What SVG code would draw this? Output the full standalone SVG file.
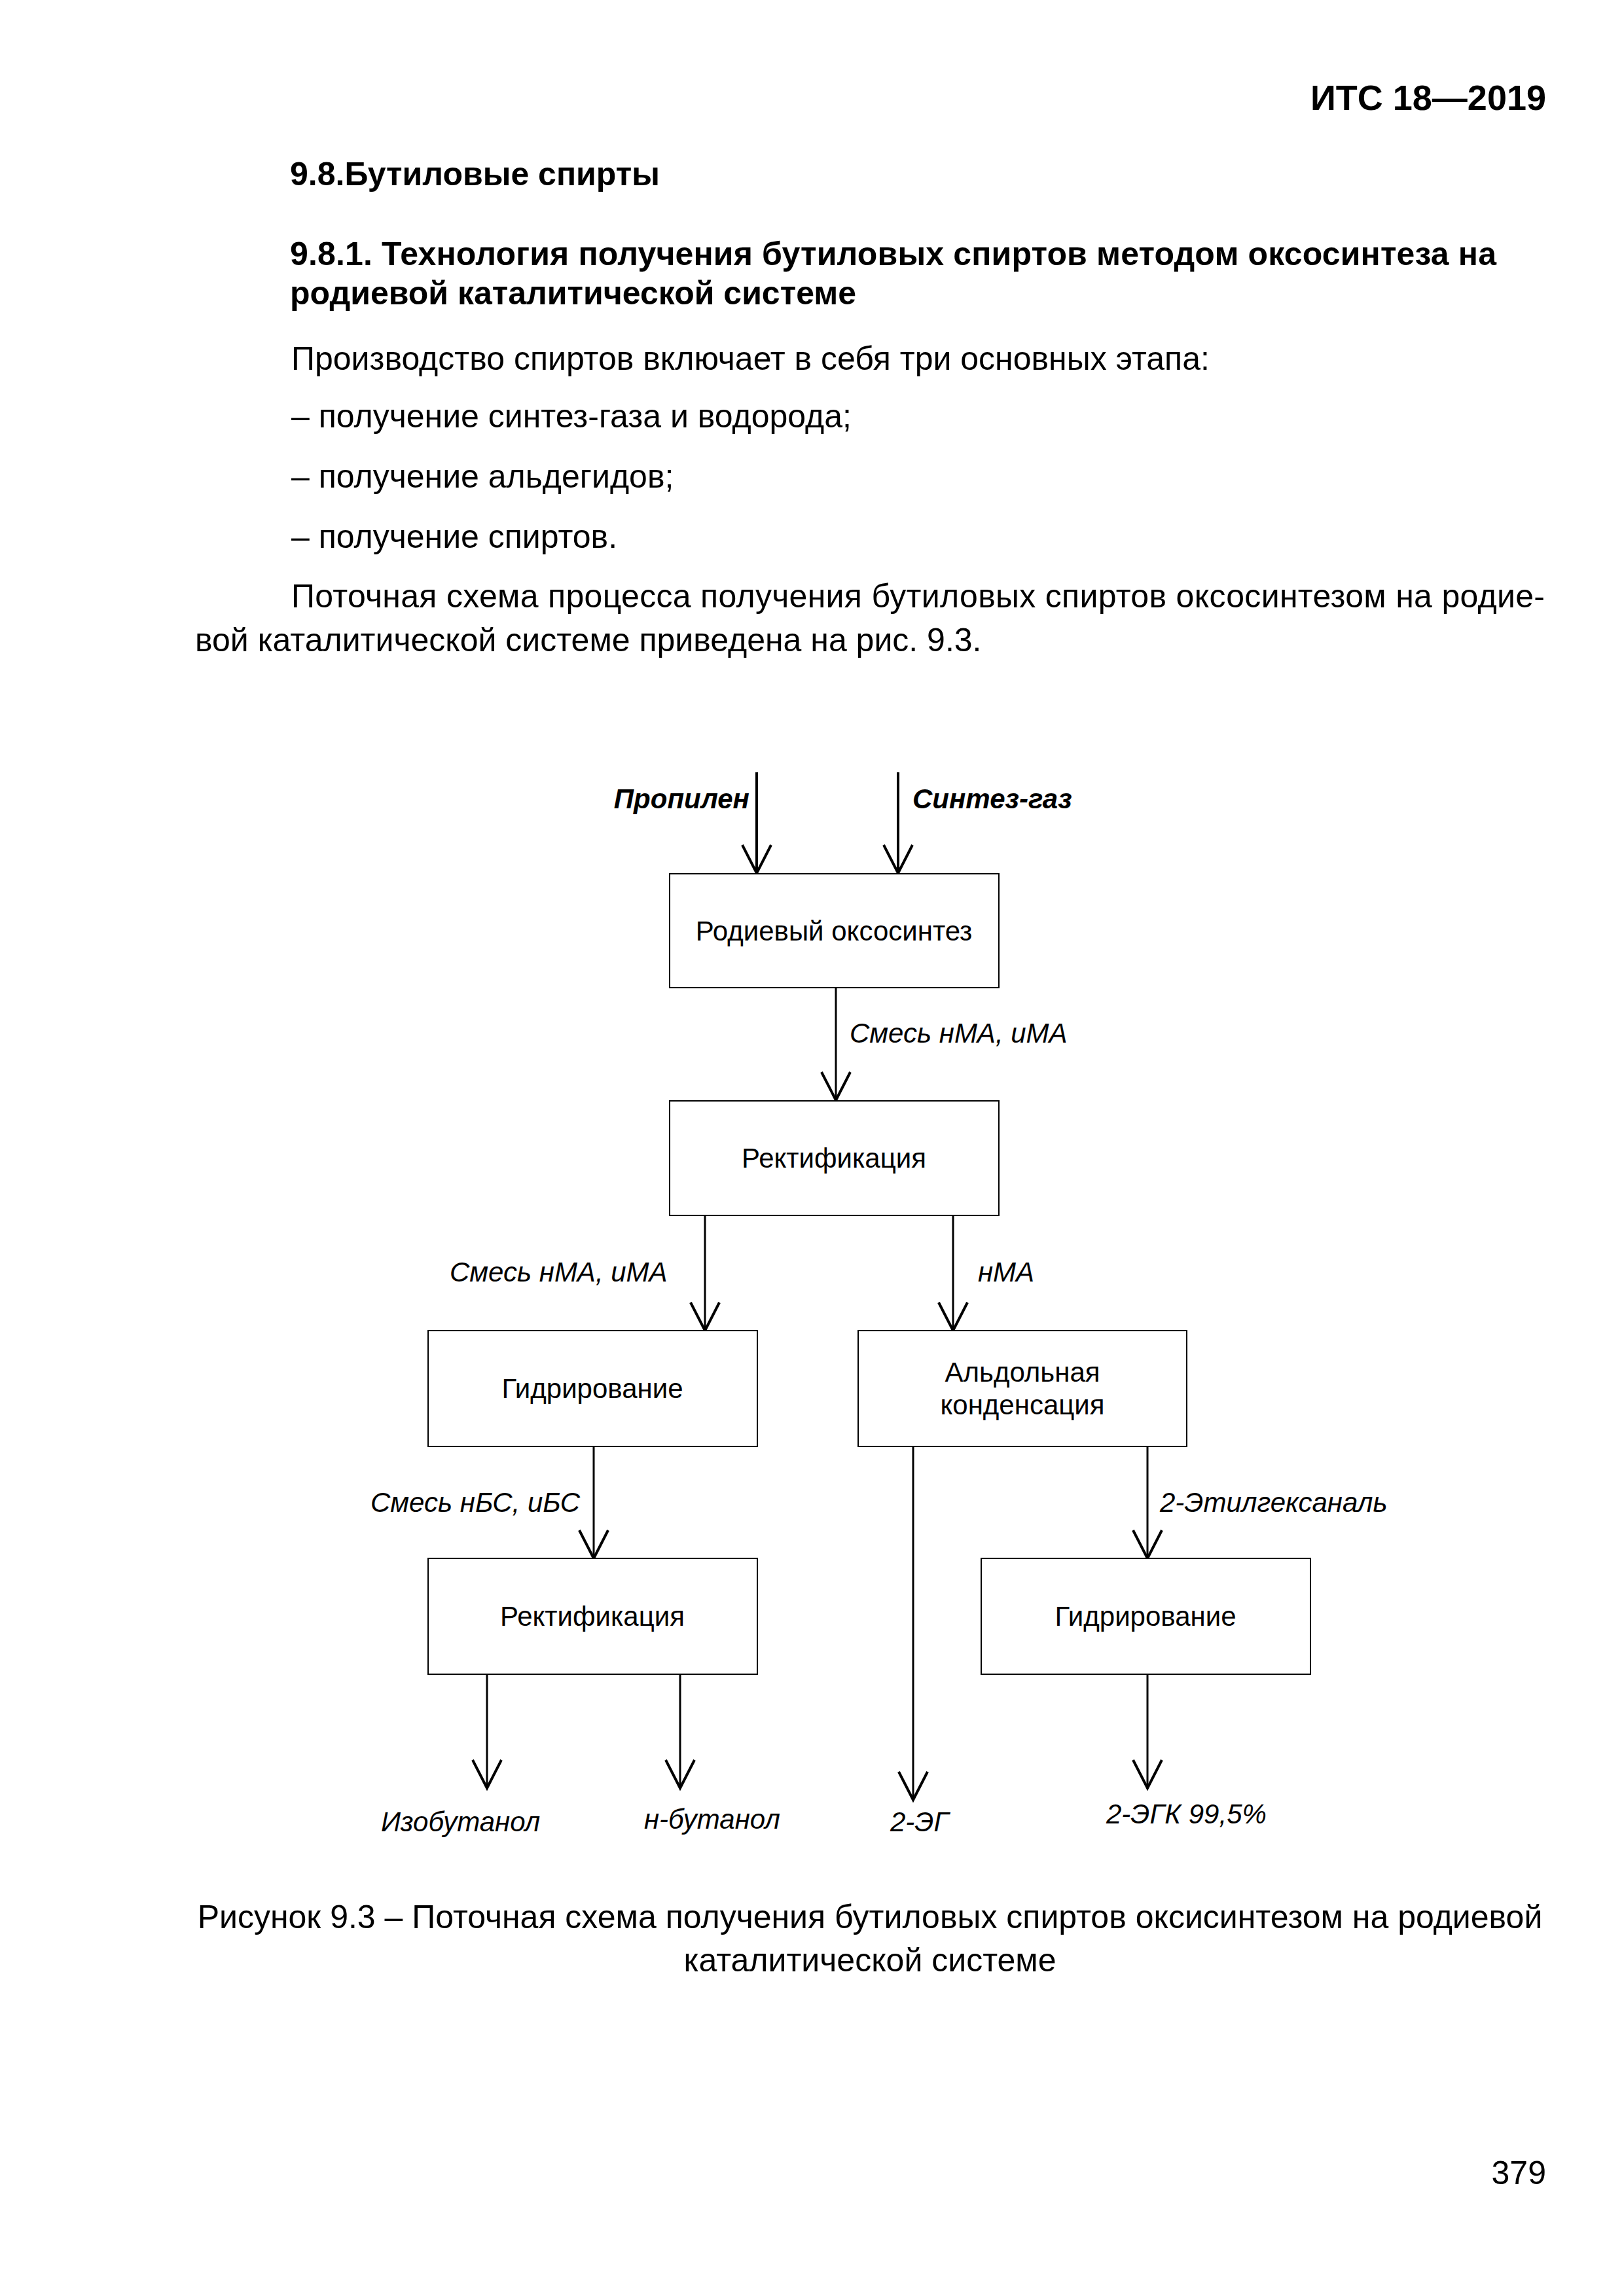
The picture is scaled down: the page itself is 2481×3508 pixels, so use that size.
<svg xmlns="http://www.w3.org/2000/svg" width="2481" height="3508" viewBox="0 0 2481 3508">
<style>
.body{font-family:"Liberation Sans",Arial,sans-serif;font-size:50px;fill:#000}
.bold{font-weight:bold}
.hdr{font-size:54px}
.box{fill:#fff;stroke:#000;stroke-width:2}
.bt{font-family:"Liberation Sans",Arial,sans-serif;font-size:42px;fill:#000;text-anchor:middle}
.lbl{font-family:"Liberation Sans",Arial,sans-serif;font-size:42px;font-style:italic;fill:#000}
.conn{stroke:#000;stroke-width:3;fill:none;marker-end:url(#arr)}
.thick{stroke-width:4}
</style>
<defs>
<marker id="arr" markerUnits="userSpaceOnUse" markerWidth="60" markerHeight="60" refX="0" refY="0" orient="auto" overflow="visible">
<path d="M-43,-22 L0,0 L-43,22" fill="none" stroke="#000" stroke-width="4"/>
</marker>
</defs>
<rect width="2481" height="3508" fill="#fff"/>
<g id="page-text">
<text class="body bold hdr" x="2362" y="168" text-anchor="end">ИТС 18—2019</text>
<text class="body bold" x="443" y="283">9.8.Бутиловые спирты</text>
<text class="body bold" x="443" y="405" textLength="1843" lengthAdjust="spacing">9.8.1. Технология получения бутиловых спиртов методом оксосинтеза на</text>
<text class="body bold" x="443" y="465">родиевой каталитической системе</text>
<text class="body" x="445" y="565">Производство спиртов включает в себя три основных этапа:</text>
<text class="body" x="445" y="653">– получение синтез-газа и водорода;</text>
<text class="body" x="445" y="745">– получение альдегидов;</text>
<text class="body" x="445" y="837">– получение спиртов.</text>
<text class="body" x="445" y="928" textLength="1915" lengthAdjust="spacing">Поточная схема процесса получения бутиловых спиртов оксосинтезом на родие-</text>
<text class="body" x="298" y="995">вой каталитической системе приведена на рис. 9.3.</text>
<text class="body" x="1329" y="2946" text-anchor="middle">Рисунок 9.3 – Поточная схема получения бутиловых спиртов оксисинтезом на родиевой</text>
<text class="body" x="1329" y="3012" text-anchor="middle">каталитической системе</text>
<text class="body" x="2362" y="3337" text-anchor="end">379</text>
</g>
<g id="connectors">
<line class="conn thick" x1="1156" y1="1180" x2="1156" y2="1334"/>
<line class="conn thick" x1="1372" y1="1180" x2="1372" y2="1334"/>
<line class="conn" x1="1277" y1="1509" x2="1277" y2="1681"/>
<line class="conn" x1="1077" y1="1857" x2="1077" y2="2033"/>
<line class="conn" x1="1456" y1="1857" x2="1456" y2="2033"/>
<line class="conn" x1="907" y1="2210" x2="907" y2="2381"/>
<line class="conn" x1="1395" y1="2210" x2="1395" y2="2750"/>
<line class="conn" x1="1753" y1="2210" x2="1753" y2="2381"/>
<line class="conn" x1="744" y1="2558" x2="744" y2="2732"/>
<line class="conn" x1="1039" y1="2558" x2="1039" y2="2732"/>
<line class="conn" x1="1753" y1="2558" x2="1753" y2="2732"/>
<text class="lbl bold" x="1145" y="1235" text-anchor="end">Пропилен</text>
<text class="lbl bold" x="1394" y="1235">Синтез-газ</text>
<text class="lbl" x="1298" y="1593">Смесь нМА, иМА</text>
<text class="lbl" x="687" y="1958">Смесь нМА, иМА</text>
<text class="lbl" x="1494" y="1958">нМА</text>
<text class="lbl" x="566" y="2310">Смесь нБС, иБС</text>
<text class="lbl" x="1772" y="2310">2-Этилгексаналь</text>
<text class="lbl" x="582" y="2798">Изобутанол</text>
<text class="lbl" x="984" y="2794">н-бутанол</text>
<text class="lbl" x="1360" y="2798">2-ЭГ</text>
<text class="lbl" x="1690" y="2786">2-ЭГК 99,5%</text>
</g>
<g id="node-oxo">
<rect class="box" x="1023" y="1335" width="503" height="174"/>
<text class="bt" x="1274" y="1437">Родиевый оксосинтез</text>
</g>
<g id="node-rect1">
<rect class="box" x="1023" y="1682" width="503" height="175"/>
<text class="bt" x="1274" y="1784">Ректификация</text>
</g>
<g id="node-hydro1">
<rect class="box" x="654" y="2033" width="503" height="177"/>
<text class="bt" x="905" y="2136">Гидрирование</text>
</g>
<g id="node-aldol">
<rect class="box" x="1311" y="2033" width="502" height="177"/>
<text class="bt" x="1562" y="2111">Альдольная</text>
<text class="bt" x="1562" y="2161">конденсация</text>
</g>
<g id="node-rect2">
<rect class="box" x="654" y="2381" width="503" height="177"/>
<text class="bt" x="905" y="2484">Ректификация</text>
</g>
<g id="node-hydro2">
<rect class="box" x="1499" y="2381" width="503" height="177"/>
<text class="bt" x="1750" y="2484">Гидрирование</text>
</g>
</svg>
